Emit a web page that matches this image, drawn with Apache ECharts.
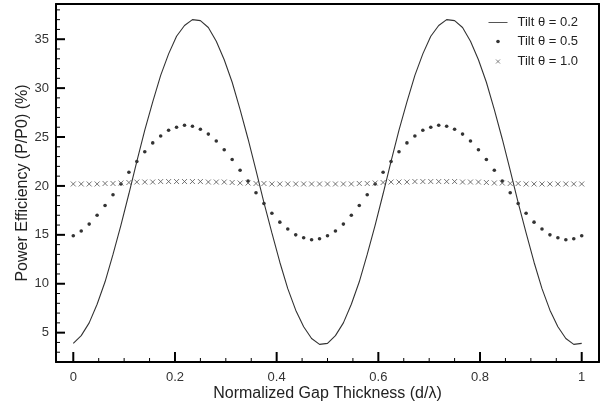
<!DOCTYPE html>
<html>
<head>
<meta charset="utf-8">
<script src="https://cdn.jsdelivr.net/npm/echarts@6/dist/echarts.min.js"></script>
<style>
  html, body { margin: 0; padding: 0; background: #fff; }
  #main { width: 608px; height: 408px; }
</style>
</head>
<body>
<div id="main"></div>
<script>
// 65 samples, d/λ from 0 to 1
var sampleCount = 65;
var seriesNames = ["Tilt θ = 0.2", "Tilt θ = 0.5", "Tilt θ = 1.0"];

var tilt02 = [
  3.9, 4.7, 6.0, 7.9, 10.2, 13.0, 16.0, 19.2, 22.5, 25.7, 28.6, 31.3, 33.5, 35.3, 36.4, 37.0,
  36.9, 36.2, 34.8, 32.9, 30.6, 27.8, 24.8, 21.6, 18.3, 15.2, 12.2, 9.5, 7.3, 5.6, 4.4, 3.8,
  3.9, 4.7, 6.0, 7.9, 10.2, 13.0, 16.0, 19.2, 22.5, 25.7, 28.6, 31.3, 33.5, 35.3, 36.4, 37.0,
  36.9, 36.2, 34.8, 32.9, 30.6, 27.8, 24.8, 21.6, 18.3, 15.2, 12.2, 9.5, 7.3, 5.6, 4.4, 3.8,
  3.9
];
var tilt05 = [
  14.9, 15.4, 16.1, 17.0, 18.0, 19.1, 20.2, 21.4, 22.5, 23.5, 24.4, 25.1, 25.7, 26.0, 26.2, 26.1,
  25.8, 25.3, 24.6, 23.7, 22.7, 21.6, 20.5, 19.3, 18.2, 17.2, 16.3, 15.6, 15.0, 14.7, 14.5, 14.6,
  14.9, 15.4, 16.1, 17.0, 18.0, 19.1, 20.2, 21.4, 22.5, 23.5, 24.4, 25.1, 25.7, 26.0, 26.2, 26.1,
  25.8, 25.3, 24.6, 23.7, 22.7, 21.6, 20.5, 19.3, 18.2, 17.2, 16.3, 15.6, 15.0, 14.7, 14.5, 14.6,
  14.9
];
var tilt10 = [
  20.2, 20.2, 20.2, 20.2, 20.25, 20.25, 20.3, 20.35, 20.4, 20.4, 20.4, 20.45, 20.45, 20.45, 20.45, 20.45,
  20.45, 20.4, 20.4, 20.4, 20.35, 20.3, 20.3, 20.25, 20.25, 20.2, 20.2, 20.2, 20.2, 20.2, 20.2, 20.2,
  20.2, 20.2, 20.2, 20.2, 20.25, 20.25, 20.3, 20.35, 20.4, 20.4, 20.4, 20.45, 20.45, 20.45, 20.45, 20.45,
  20.45, 20.4, 20.4, 20.4, 20.35, 20.3, 20.3, 20.25, 20.25, 20.2, 20.2, 20.2, 20.2, 20.2, 20.2, 20.2,
  20.2
];

var xTicks = [0, 0.2, 0.4, 0.6, 0.8, 1];
var yTicks = [5, 10, 15, 20, 25, 30, 35];

var gap = [];
for (var i = 0; i < sampleCount; i++) gap.push(i / (sampleCount - 1));

function pairs(values) {
  return values.map(function (v, i) { return [gap[i], v]; });
}

var xMinor = [];
for (var k = 0; k <= 20; k++) if (k % 4) xMinor.push(+(k * 0.05).toFixed(2));
var yMinor = [];
for (var m = 2; m <= 38; m++) if (m % 5) yMinor.push(m);

var xMin = -0.034, xMax = 1.034;
var yMin = 2, yMax = 38.6;
var crossPath = "path://M0,0L10,10M10,0L0,10";

function frame() {
  return { show: true, onZero: false, lineStyle: { color: "#000", width: 2 } };
}

function sideAxis(min, max, position) {
  return {
    type: "value",
    min: min,
    max: max,
    position: position,
    axisLine: frame(),
    splitLine: { show: false },
    axisLabel: { show: false },
    axisTick: { show: false },
  };
}

// inner tick marks, placed through the axes' own scales
function tickSeries(values, dir, len, width) {
  return {
    type: "custom",
    silent: true,
    clip: false,
    xAxisIndex: 0,
    yAxisIndex: 0,
    data: values.map(function (v) { return dir === "x" ? [v, yMin] : [xMin, v]; }),
    renderItem: function (params, api) {
      var p = api.coord([api.value(0), api.value(1)]);
      var shape = dir === "x"
        ? { x1: p[0], y1: p[1], x2: p[0], y2: p[1] - len }
        : { x1: p[0], y1: p[1], x2: p[0] + len, y2: p[1] };
      return { type: "line", shape: shape, style: { stroke: "#000", lineWidth: width } };
    },
    z: 5,
  };
}

var myChart = echarts.init(document.getElementById("main"));

var option = {
  backgroundColor: "#fff",
  animation: false,
  grid: { left: 56, right: 9, top: 4, bottom: 46 },
  legend: {
    orient: "vertical",
    left: 486,
    top: 16,
    padding: 0,
    itemWidth: 19,
    itemHeight: 10,
    itemGap: 6,
    textStyle: { color: "#222", fontSize: 13, fontFamily: "Liberation Sans", padding: [0, 0, 0, 5] },
    data: [
      {
        name: seriesNames[0],
        icon: "path://M0,0M19,10M0,4.5L19,4.5L19,5.5L0,5.5Z",
        itemStyle: { color: "#555", borderWidth: 0 },
      },
      { name: seriesNames[1], icon: "path://M0,0M19,10M7.7,5a1.8,1.8 0 1,0 3.6,0a1.8,1.8 0 1,0 -3.6,0z" },
      {
        name: seriesNames[2],
        icon: "path://M0,0M19,10M7.5,3L11.5,7M11.5,3L7.5,7",
        itemStyle: { color: "none", borderColor: "#666", borderWidth: 1 },
      },
    ],
  },
  xAxis: [
    {
      type: "value",
      min: xMin,
      max: xMax,
      name: "Normalized Gap Thickness (d/λ)",
      nameLocation: "middle",
      nameGap: 24,
      nameMoveOverlap: false,
      nameTextStyle: { color: "#222", fontSize: 16, fontFamily: "Liberation Sans" },
      axisLine: frame(),
      splitLine: { show: false },
      axisTick: { show: false },
      axisLabel: {
        color: "#333",
        fontSize: 13,
        fontFamily: "Liberation Sans",
        margin: 9,
        customValues: xTicks,
        formatter: function (v) { return String(+v.toFixed(1)); },
      },
    },
    sideAxis(xMin, xMax, "top"),
  ],
  yAxis: [
    {
      type: "value",
      min: yMin,
      max: yMax,
      name: "Power Efficiency (P/P0) (%)",
      nameLocation: "middle",
      nameGap: 25,
      nameMoveOverlap: false,
      nameTextStyle: { color: "#222", fontSize: 16, fontFamily: "Liberation Sans" },
      axisLine: frame(),
      splitLine: { show: false },
      axisTick: { show: false },
      axisLabel: { color: "#333", fontSize: 13, fontFamily: "Liberation Sans", margin: 7, customValues: yTicks },
    },
    sideAxis(yMin, yMax, "right"),
  ],
  series: [
    {
      name: seriesNames[0],
      type: "line",
      xAxisIndex: 0,
      yAxisIndex: 0,
      data: pairs(tilt02),
      showSymbol: false,
      symbol: "none",
      lineStyle: { color: "#333", width: 1.1 },
      itemStyle: { color: "#333" },
    },
    {
      name: seriesNames[1],
      type: "scatter",
      xAxisIndex: 0,
      yAxisIndex: 0,
      data: pairs(tilt05),
      symbol: "circle",
      symbolSize: 3.6,
      itemStyle: { color: "#000" },
    },
    {
      name: seriesNames[2],
      type: "scatter",
      xAxisIndex: 0,
      yAxisIndex: 0,
      data: pairs(tilt10),
      symbol: crossPath,
      symbolSize: 5,
      itemStyle: { color: "none", borderColor: "#555", borderWidth: 1 },
    },
    tickSeries(yTicks, "y", 9, 2),
    tickSeries(yMinor, "y", 4, 1),
    tickSeries(xTicks, "x", 10, 2),
    tickSeries(xMinor, "x", 4, 1),
  ],
};

myChart.setOption(option);
</script>
</body>
</html>
